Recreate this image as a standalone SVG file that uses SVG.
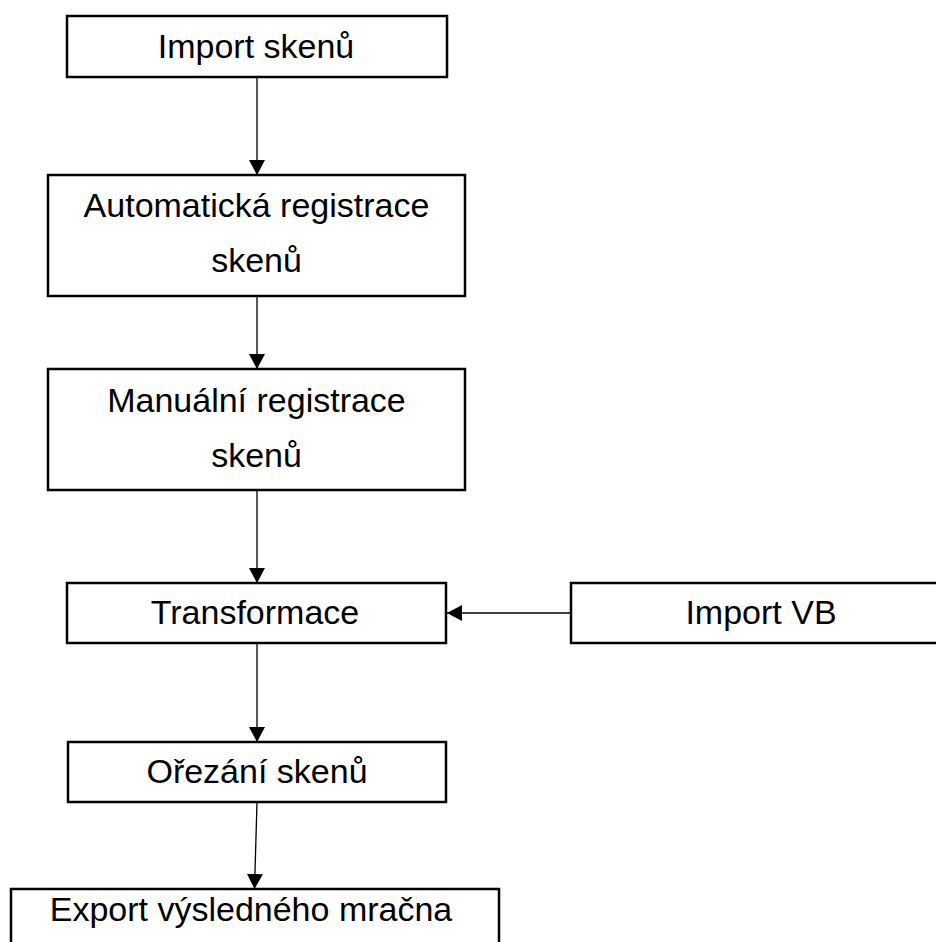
<svg xmlns="http://www.w3.org/2000/svg" width="936" height="942" viewBox="0 0 936 942">
<style>
.box{fill:#fff;stroke:#000;stroke-width:2.5}
.lbl{font-family:"Liberation Sans",Arial,sans-serif;font-size:34px;fill:#000;text-anchor:middle}
.con{stroke:#000;stroke-width:1.3;fill:none}
</style>
<defs>
<marker id="ah" markerWidth="15" markerHeight="16" refX="15" refY="8" orient="auto" markerUnits="userSpaceOnUse">
<path d="M0,0 L15,8 L0,16 Z" fill="#000"/>
</marker>
</defs>
<rect width="936" height="942" fill="#fff"/>
<g id="connectors">
<line class="con" x1="257" y1="77" x2="257" y2="175" marker-end="url(#ah)"/>
<line class="con" x1="257" y1="296" x2="257" y2="369" marker-end="url(#ah)"/>
<line class="con" x1="257" y1="490" x2="257" y2="583" marker-end="url(#ah)"/>
<line class="con" x1="571" y1="613" x2="447" y2="613" marker-end="url(#ah)"/>
<line class="con" x1="257" y1="643" x2="257" y2="742" marker-end="url(#ah)"/>
<line class="con" x1="257" y1="802" x2="254.5" y2="889" marker-end="url(#ah)"/>
</g>
<g id="n1"><rect class="box" x="67" y="16" width="380" height="61"/><text class="lbl" x="256" y="58">Import skenů</text></g>
<g id="n2"><rect class="box" x="48" y="175" width="417" height="121"/><text class="lbl" x="256.5" y="217">Automatická registrace</text><text class="lbl" x="256.5" y="272">skenů</text></g>
<g id="n3"><rect class="box" x="48" y="369" width="417" height="121"/><text class="lbl" x="256.5" y="412">Manuální registrace</text><text class="lbl" x="256.5" y="467">skenů</text></g>
<g id="n4"><rect class="box" x="67" y="583" width="379" height="60"/><text class="lbl" x="255" y="624">Transformace</text></g>
<g id="n5"><rect class="box" x="571" y="583" width="380" height="60"/><text class="lbl" x="761" y="624">Import VB</text></g>
<g id="n6"><rect class="box" x="68" y="742" width="378" height="60"/><text class="lbl" x="257" y="783">Ořezání skenů</text></g>
<g id="n7"><rect class="box" x="11" y="889" width="488" height="80"/><text class="lbl" x="251" y="921">Export výsledného mračna</text></g>
</svg>
